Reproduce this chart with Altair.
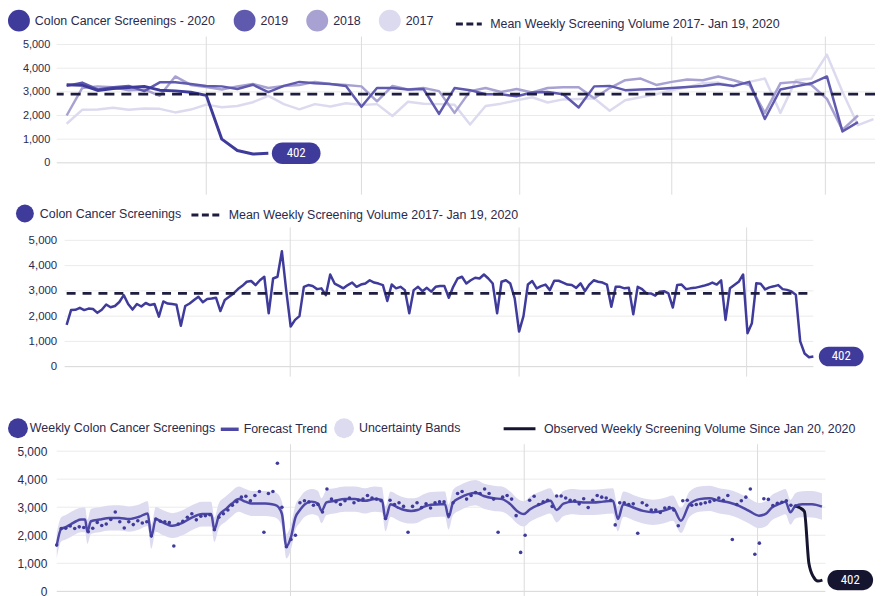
import altair as alt
import pandas as pd

# ---------------- data ----------------
vals_2017 = [1650, 2240, 2250, 2330, 2240, 2300, 2280, 2130, 2250, 2460,
             2350, 2400, 2560, 2830, 2480, 2260, 2480, 2380, 2520, 2440,
             2480, 1980, 2580, 2500, 2480, 2450, 1620, 2400, 2500, 2640,
             2770, 2550, 2680, 2700, 2730, 2200, 2640, 2770, 2900, 3070,
             3200, 3360, 3390, 3230, 3420, 3560, 2110, 3490, 3560, 4570,
             3000, 1590, 1850]
vals_2018 = [2000, 3160, 3230, 3190, 3070, 3100, 2830, 3650, 3290, 3200,
             3100, 3230, 3330, 3160, 3250, 3290, 3420, 3330, 3290, 3230,
             2600, 3250, 3100, 3160, 3030, 2110, 3030, 3160, 2990, 3120,
             2970, 3160, 3190, 3190, 2730, 3160, 3490, 3560, 3290, 3420,
             3520, 3490, 3650, 3490, 3290, 2110, 3360, 3420, 3290, 2700,
             1390, 2000]
vals_2019 = [3250, 3390, 3100, 3190, 3250, 3030, 3400, 3400, 3330, 3250,
             3230, 3120, 3300, 2990, 3250, 3420, 3360, 3330, 3250, 2370,
             3160, 3160, 3100, 3120, 2070, 3160, 3070, 2900, 2900, 2810,
             2970, 2990, 2900, 2340, 3230, 3250, 3070, 3100, 3120, 3160,
             3200, 3250, 3330, 3250, 3420, 1850, 3100, 3230, 3360, 3650,
             1325, 1720]
vals_2020 = [3300, 3280, 3060, 3140, 3180, 3230, 3070, 3040, 2980, 2850,
             1000, 520, 370, 402]
mean_volume = 2900

# forecast trend and uncertainty band (week index, centre, lower, upper)
fc_t = [0, 1, 2, 3.2, 4.3, 5.4, 6.3, 6.8, 7.6, 9.5, 11.7, 13.9, 16.1, 18.3, 20.2,
        21, 22, 23.5, 25.7, 27.9, 30.1, 32.3, 34.3, 35, 36, 37.5, 38.9, 40.4, 41.9,
        43.3, 46.3, 47.8, 48.9, 50, 51, 52, 53, 54, 55.1, 56.6, 58, 58.8, 59.9, 61.7,
        64, 66.2, 68.4, 70.6, 72.2, 73, 74.1, 75.7, 77.2, 78.7, 80.1, 81.6, 83.1,
        85.3, 86.2, 87, 88, 89.7, 91.2, 93, 94.8, 97, 98.9, 100.7, 102.2, 103.7,
        105.1, 107.4, 109.6, 111, 112.5, 114.7, 116.9, 119.1, 121.3, 123.5, 124.6,
        125.8, 128, 130.2, 132.4, 134.6, 136.8, 138.6, 140.5, 142.7, 144.9, 147.1,
        149.3, 151.5, 153.7, 155.9, 157.4, 158.8, 160.3, 161.8, 162.9, 164, 165.5,
        167.7, 169.9]
fc_mid = [1640, 2230, 2290, 2400, 2500, 2560, 2560, 2130, 2500, 2560, 2620, 2620, 2580, 2660, 2780,
          1950, 2580, 2460, 2340, 2440, 2640, 2760, 2760, 2200, 2700, 2930, 3130, 3290, 3200,
          3130, 3130, 3110, 3050, 2760, 1600, 1930, 2640, 2900, 3110, 3200, 3130, 2870, 3170, 3230,
          3290, 3290, 3230, 3290, 3260, 2580, 3110, 2990, 2900, 2870, 2900, 3020, 3090,
          3110, 3110, 2640, 3170, 3350, 3460, 3520, 3400, 3320, 3290, 3110, 2870, 2760,
          2930, 3110, 3230, 2900, 3130, 3200, 3170, 3170, 3200, 3230, 2580,
          3110, 2990, 2870, 2820, 2870, 2970, 2520, 3110, 3290, 3320, 3230,
          3170, 3050, 2870, 2700, 2760, 2990, 3110, 3200, 2820, 3050, 3110,
          3110, 3020]
fc_lo = [1180, 1780, 1850, 1950, 2050, 2110, 2110, 1700, 2050, 2110, 2170, 2170, 2130, 2210, 2330,
         1520, 2130, 2010, 1900, 2000, 2190, 2310, 2310, 1760, 2250, 2480, 2680, 2840, 2750,
         2690, 2690, 2660, 2600, 2310, 1170, 1490, 2190, 2450, 2660, 2750, 2690, 2430, 2720, 2780,
         2840, 2840, 2780, 2840, 2810, 2140, 2660, 2540, 2450, 2420, 2450, 2570, 2640,
         2660, 2660, 2200, 2720, 2900, 3010, 3070, 2950, 2870, 2840, 2660, 2420, 2310,
         2480, 2660, 2780, 2460, 2680, 2750, 2720, 2720, 2750, 2780, 2140,
         2660, 2540, 2420, 2370, 2420, 2520, 2080, 2660, 2840, 2870, 2780,
         2720, 2600, 2420, 2250, 2310, 2540, 2660, 2750, 2380, 2600, 2640,
         2630, 2550]
fc_hi = [2060, 2640, 2720, 2840, 2930, 2980, 2990, 2560, 2940, 3000, 3060, 3070, 3030, 3100, 3210,
         2380, 3010, 2900, 2790, 2890, 3080, 3200, 3200, 2640, 3140, 3380, 3580, 3740, 3650,
         3580, 3580, 3560, 3500, 3200, 2040, 2380, 3080, 3350, 3560, 3650, 3580, 3320, 3620, 3680,
         3740, 3740, 3680, 3740, 3710, 3030, 3560, 3440, 3350, 3320, 3350, 3470, 3540,
         3560, 3560, 3090, 3620, 3800, 3910, 3970, 3850, 3770, 3740, 3560, 3320, 3210,
         3380, 3560, 3680, 3350, 3580, 3650, 3620, 3620, 3650, 3680, 3030,
         3560, 3440, 3320, 3270, 3320, 3420, 2970, 3560, 3740, 3770, 3680,
         3620, 3500, 3320, 3150, 3210, 3440, 3560, 3650, 3270, 3500, 3570,
         3580, 3500]

y_ticks = [0, 1000, 2000, 3000, 4000, 5000]

year_names = ["Colon Cancer Screenings - 2020", "2019", "2018", "2017"]
series_name = "Colon Cancer Screenings"
mean_name = "Mean Weekly Screening Volume 2017- Jan 19, 2020"
dots_name = "Weekly Colon Cancer Screenings"
trend_name = "Forecast Trend"
band_name = "Uncertainty Bands"
observed_name = "Observed Weekly Screening Volume Since Jan 20, 2020"

# ---------------- style / layout constants ----------------
FONT = "Liberation Sans, Arial, Helvetica, sans-serif"
NARROW = "Liberation Sans Narrow, Roboto Condensed, DejaVu Sans Condensed, Liberation Sans, sans-serif"
TXT = "#2b2a4c"
MAIN = "#3f3b9b"
NAVY = "#1e1d3f"
BLACK = "#16152f"
year_colors = ["#3f3b9b", "#605aae", "#a7a2d1", "#dcdaef"]
W = 823
PILL = ("M-0.56,-0.44L0.56,-0.44C0.803,-0.44,1,-0.243,1,0C1,0.243,0.803,0.44,0.56,0.44"
        "L-0.56,0.44C-0.803,0.44,-1,0.243,-1,0C-1,-0.243,-0.803,-0.44,-0.56,-0.44Z")

p1_xdom, p1_ydom, p1_h = [0.36, 53.1], [-1512.6, 6470.6], 190
p2_xdom, p2_ydom, p2_h = [-2.26, 184.03], [-1299.2, 6653.5], 202
p3_xdom, p3_ydom, p3_h = [0, 181.68], [-248, 6844], 200
p1_vlines, p1_vspan = [10, 20, 30.2, 40, 49.9], (-1345, 5336)
p2_vlines, p2_vspan = [50.9, 103.0, 154.8], (-394, 5512)
p3_vlines, p3_vspan = [51.9, 103.8, 155.6], (-248, 5248)
p2_hspan = (-0.45, 170)
p3_hspan = (0, 170.66)


def y_axis(pad, size):
    return alt.Axis(values=y_ticks, format=",d", title=None, domain=False, ticks=False,
                    tickSize=0, grid=False, labelPadding=pad, labelFontSize=size,
                    labelColor=TXT, labelFont=FONT, minExtent=49)


def enc_factory(xdom, ydom, axis):
    xs = alt.Scale(domain=xdom, nice=False, zero=False)
    ys = alt.Scale(domain=ydom, nice=False, zero=False)

    def X(f):
        return alt.X(f"{f}:Q", scale=xs, axis=None)

    def Y(f):
        return alt.Y(f"{f}:Q", scale=ys, axis=axis)
    return X, Y


def grid_layers(X, Y, xfield, vlines, vspan, hspan=None):
    dfh = pd.DataFrame({"v": y_ticks})
    gcol = alt.condition(alt.datum.v == 0, alt.value("#d6d6d6"), alt.value("#ebebeb"))
    if hspan is None:
        h = alt.Chart(dfh).mark_rule(strokeWidth=1).encode(y=Y("v"), color=gcol)
    else:
        dfh["xa"] = hspan[0]
        dfh["xb"] = hspan[1]
        h = alt.Chart(dfh).mark_rule(strokeWidth=1).encode(
            x=X("xa"), x2="xb", y=Y("v"), color=gcol)
    dfv = pd.DataFrame({xfield: vlines, "lo": vspan[0], "hi": vspan[1]})
    v = alt.Chart(dfv).mark_rule(color="#dcdcdc", strokeWidth=1).encode(
        x=X(xfield), y=Y("lo"), y2="hi")
    return [h, v]


def pill_layers(X, Y, xfield, xval, yval, color, size):
    df = pd.DataFrame({xfield: [xval], "v": [yval], "lab": [f"{yval:,}"]})
    p = alt.Chart(df).mark_point(shape=PILL, size=size, filled=True, opacity=1,
                                 color=color, strokeWidth=0, xOffset=28).encode(
        x=X(xfield), y=Y("v"))
    t = alt.Chart(df).mark_text(color="white", font=NARROW, fontSize=13, dx=28).encode(
        x=X(xfield), y=Y("v"), text="lab:N")
    return [p, t]


def line_legend(name, x, y, size, color, dash=None, offset=7):
    kw = dict(title=None, orient="none", legendX=x, legendY=y, symbolType="stroke",
              symbolSize=size, symbolStrokeColor=color, symbolStrokeWidth=3,
              labelOffset=offset, padding=0)
    if dash:
        kw["symbolDash"] = dash
    return alt.Opacity("k:N", scale=alt.Scale(domain=[name], range=[1]), legend=alt.Legend(**kw))


# ---------------- panel 1: by year ----------------
X1, Y1 = enc_factory(p1_xdom, p1_ydom, y_axis(7, 11))
layers1 = grid_layers(X1, Y1, "week", p1_vlines, p1_vspan)
for vals, col, sw in [(vals_2017, year_colors[3], 2.5), (vals_2018, year_colors[2], 2.5),
                      (vals_2019, year_colors[1], 2.5), (vals_2020, year_colors[0], 3)]:
    dfy = pd.DataFrame({"week": list(range(1, len(vals) + 1)), "v": vals})
    layers1.append(alt.Chart(dfy).mark_line(color=col, strokeWidth=sw, strokeJoin="round").encode(
        x=X1("week"), y=Y1("v")))
dfm1 = pd.DataFrame({"v": [mean_volume], "k": [mean_name]})
layers1.append(alt.Chart(dfm1).mark_rule(color=NAVY, strokeDash=[10, 7], strokeWidth=2.8).encode(
    y=Y1("v"), opacity=line_legend(mean_name, 400, 0, 676, NAVY, [7, 3.5])))
dfl1 = pd.DataFrame({"week": [1] * 4, "v": [0] * 4, "k": year_names})
layers1.append(alt.Chart(dfl1).transform_filter("false").mark_circle(opacity=1).encode(
    x=X1("week"), y=Y1("v"),
    fill=alt.Fill("k:N", scale=alt.Scale(domain=year_names, range=year_colors),
                  legend=alt.Legend(title=None, orient="none", legendX=-49, legendY=0,
                                    direction="horizontal", symbolType="circle", symbolSize=484,
                                    symbolStrokeWidth=0, labelOffset=5, columnPadding=18,
                                    padding=0))))
layers1 += pill_layers(X1, Y1, "week", len(vals_2020), vals_2020[-1], MAIN, 2401)
panel1 = alt.layer(*layers1).properties(width=W, height=p1_h)

# ---------------- panel 2: continuous weekly series ----------------
all_vals = vals_2017 + vals_2018 + vals_2019 + vals_2020
df_all = pd.DataFrame({"t": list(range(len(all_vals))), "v": all_vals})
X2, Y2 = enc_factory(p2_xdom, p2_ydom, y_axis(0, 11.5))
layers2 = grid_layers(X2, Y2, "t", p2_vlines, p2_vspan, p2_hspan)
layers2.append(alt.Chart(df_all).mark_line(color=MAIN, strokeWidth=2.5, strokeJoin="round").encode(
    x=X2("t"), y=Y2("v")))
dfm2 = pd.DataFrame({"v": [mean_volume], "k": [mean_name],
                     "ta": [df_all.t.min()], "tb": [df_all.t.max()]})
layers2.append(alt.Chart(dfm2).mark_rule(color=NAVY, strokeDash=[9, 7], strokeWidth=2.6).encode(
    x=X2("ta"), x2="tb", y=Y2("v"), opacity=line_legend(mean_name, 134, 0.5, 841, NAVY, [7, 3.5])))
dfl2 = pd.DataFrame({"t": [0], "v": [0], "k": [series_name]})
layers2.append(alt.Chart(dfl2).transform_filter("false").mark_circle(opacity=1).encode(
    x=X2("t"), y=Y2("v"),
    fill=alt.Fill("k:N", scale=alt.Scale(domain=[series_name], range=[MAIN]),
                  legend=alt.Legend(title=None, orient="none", legendX=-41, legendY=6,
                                    symbolType="circle", symbolSize=324, symbolStrokeWidth=0,
                                    labelOffset=6, padding=0))))
layers2 += pill_layers(X2, Y2, "t", int(df_all.t.max()), all_vals[-1], MAIN, 2025)
panel2 = alt.layer(*layers2).properties(width=W, height=p2_h)

# ---------------- panel 3: forecast ----------------
split_t = 164
X3, Y3 = enc_factory(p3_xdom, p3_ydom, y_axis(10, 12))
layers3 = grid_layers(X3, Y3, "t", p3_vlines, p3_vspan, p3_hspan)
df_fc = pd.DataFrame({"t": fc_t, "mid": fc_mid, "lo": fc_lo, "hi": fc_hi,
                      "kb": band_name, "kt": trend_name})
layers3.append(alt.Chart(df_fc).mark_area(opacity=1, interpolate="monotone").encode(
    x=X3("t"), y=Y3("lo"), y2="hi",
    fill=alt.Fill("kb:N", scale=alt.Scale(domain=[band_name], range=["#dddbf0"]),
                  legend=alt.Legend(title=None, orient="none", legendX=279, legendY=19,
                                    symbolType="circle", symbolSize=400, symbolStrokeWidth=0,
                                    labelOffset=5, padding=0))))
df_obs = df_all[df_all.t >= split_t].assign(k=observed_name)
layers3.append(alt.Chart(df_obs).mark_line(color=BLACK, strokeWidth=3, interpolate="monotone").encode(
    x=X3("t"), y=Y3("v"), opacity=line_legend(observed_name, 448, 12, 1024, BLACK, None, 7)))
layers3.append(alt.Chart(df_fc).mark_line(strokeWidth=2.5, interpolate="monotone").encode(
    x=X3("t"), y=Y3("mid"),
    stroke=alt.Stroke("kt:N", scale=alt.Scale(domain=[trend_name], range=["#4d48a6"]),
                      legend=alt.Legend(title=None, orient="none", legendX=163, legendY=19,
                                        symbolType="stroke", symbolSize=324, symbolStrokeWidth=3.5,
                                        labelOffset=3, padding=0))))
df_dots = df_all[df_all.t <= split_t].assign(k=dots_name)
layers3.append(alt.Chart(df_dots).mark_circle(size=13, opacity=1).encode(
    x=X3("t"), y=Y3("v"),
    color=alt.Color("k:N", scale=alt.Scale(domain=[dots_name], range=[MAIN]),
                    legend=alt.Legend(title=None, orient="none", legendX=-49, legendY=19,
                                      symbolType="circle", symbolSize=400, symbolStrokeWidth=0,
                                      labelOffset=2, padding=0))))
layers3 += pill_layers(X3, Y3, "t", int(df_all.t.max()), all_vals[-1], BLACK, 2116)
panel3 = alt.layer(*layers3).properties(width=W, height=p3_h)

chart = (
    alt.vconcat(panel1, panel2, panel3, spacing=0)
    .resolve_scale(x="independent", y="independent", color="independent", fill="independent",
                   stroke="independent", opacity="independent")
    .resolve_legend(color="independent", fill="independent", stroke="independent",
                    opacity="independent")
    .configure_view(strokeWidth=0)
    .configure_legend(labelFont=FONT, labelFontSize=12.5, labelColor=TXT, labelLimit=600, padding=0)
    .properties(padding=0, background="white")
)

chart.save("out.html", embed_options={"renderer": "svg", "actions": False})
